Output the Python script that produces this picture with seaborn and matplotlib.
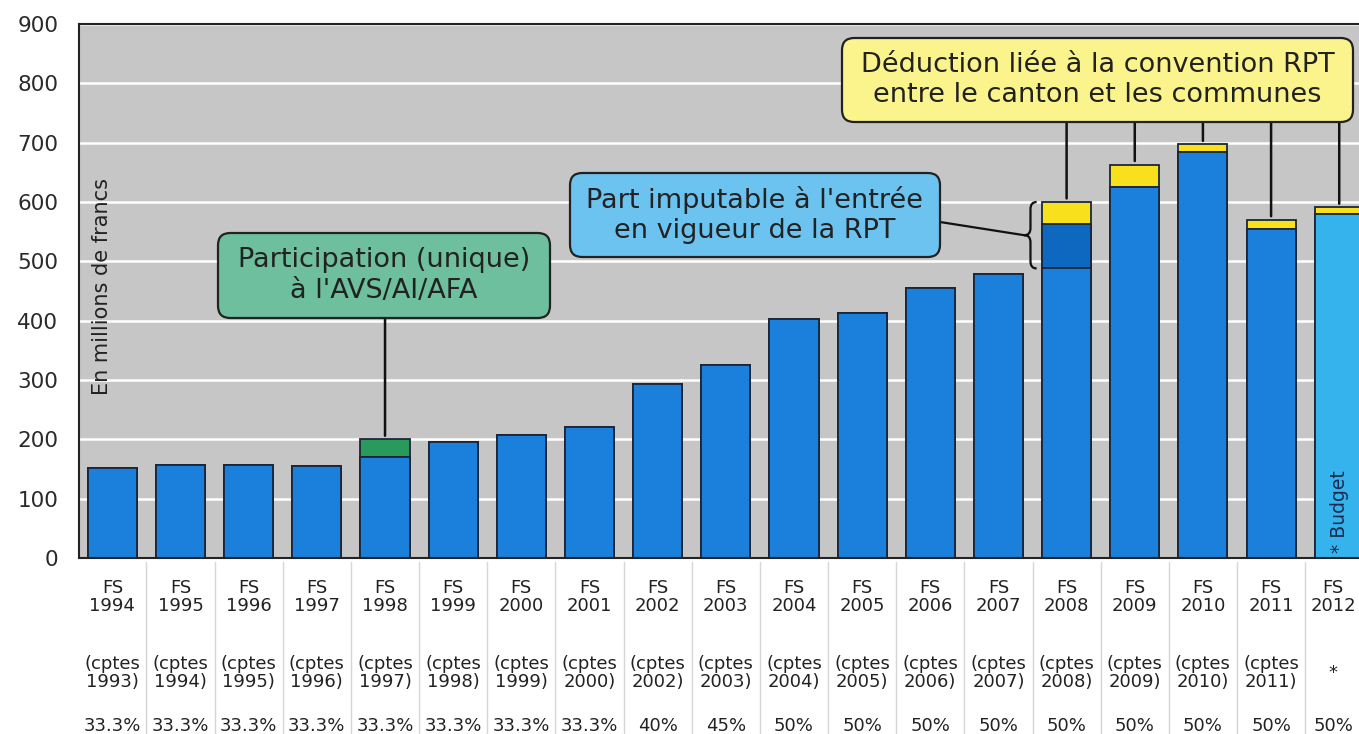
import matplotlib
matplotlib.use("Agg")
import matplotlib.pyplot as plt
import matplotlib.transforms as mtransforms
from matplotlib.patches import FancyBboxPatch, PathPatch, ConnectionPatch
from matplotlib.path import Path
import seaborn as sns
import numpy as np
import pandas as pd

# Données (millions de francs)
years = ["1994", "1995", "1996", "1997", "1998", "1999", "2000", "2001", "2002", "2003",
         "2004", "2005", "2006", "2007", "2008", "2009", "2010", "2011", "2012"]
base = [151, 157, 156, 155, 171, 196, 207, 221, 293, 325,
        403, 413, 455, 478, 488, 625, 684, 555, 579]
avs_part = [0, 0, 0, 0, 29, 0, 0, 0, 0, 0, 0, 0, 0, 0, 0, 0, 0, 0, 0]
rpt_part = [0, 0, 0, 0, 0, 0, 0, 0, 0, 0, 0, 0, 0, 0, 75, 0, 0, 0, 0]
deduction = [0, 0, 0, 0, 0, 0, 0, 0, 0, 0, 0, 0, 0, 0, 37, 38, 13, 15, 12]
comptes = ["1993", "1994", "1995", "1996", "1997", "1998", "1999", "2000", "2002", "2003",
           "2004", "2005", "2006", "2007", "2008", "2009", "2010", "2011", None]
taux = ["33.3%", "33.3%", "33.3%", "33.3%", "33.3%", "33.3%", "33.3%", "33.3%", "40%", "45%",
        "50%", "50%", "50%", "50%", "50%", "50%", "50%", "50%", "50%"]

BLUE = "#1a80dc"
DARK = "#0f68c0"
SKY = "#35b3ec"
YELLOW = "#f8e01c"
GREEN = "#2a9a5c"
EDGE = "#1b2638"

df = pd.DataFrame({"annee": years, "base": base, "avs": avs_part,
                   "rpt": rpt_part, "ded": deduction})
df["mid"] = df["base"] + df["rpt"]
df["total"] = df["mid"] + df["avs"] + df["ded"]

sns.set_theme(style="darkgrid", rc={"axes.facecolor": "#c6c6c6", "grid.color": "white",
                                    "grid.linewidth": 1.8})
plt.rcParams["font.family"] = ["DejaVu Sans"]

W, H = 1359, 734
fig = plt.figure(figsize=(W / 100, H / 100), dpi=100)
fig.patch.set_facecolor("white")
ax = fig.add_axes([79 / W, 1 - 558 / H, 1 - 79 / W, (558 - 24) / H])

# couleurs par barre pour chaque couche (empilement par superposition)
top_col, mid_col, base_col = {}, {}, {}
for y, a, r, d in zip(years, avs_part, rpt_part, deduction):
    b = SKY if y == "2012" else BLUE
    top_col[y] = YELLOW if d > 0 else (GREEN if a > 0 else b)
    mid_col[y] = DARK if r > 0 else b
    base_col[y] = b

for col, pal in [("total", top_col), ("mid", mid_col), ("base", base_col)]:
    sns.barplot(data=df, x="annee", y=col, hue="annee", palette=pal, order=years,
                hue_order=years, width=0.72, saturation=1, edgecolor=EDGE,
                linewidth=1.3, legend=False, ax=ax)

ax.set_xlim(-0.49, 18.29)
ax.set_ylim(0, 900)
ax.set_yticks(np.arange(0, 901, 100))
ax.set_xticks([])
ax.set_xlabel("")
ax.set_ylabel("")
ax.xaxis.grid(False)
ax.set_axisbelow(True)
ax.tick_params(axis="y", length=0, labelsize=15.5, pad=15, labelcolor="#2a2a2a")
for s in ["left", "bottom", "top"]:
    ax.spines[s].set_visible(True)
    ax.spines[s].set_color("#222222")
    ax.spines[s].set_linewidth(1.5)
ax.spines["right"].set_visible(False)

ax.text(-0.15, 458, "En millions de francs", rotation=90, ha="center", va="center",
        fontsize=15, color="#222222")
ax.text(18, 8, "* Budget", rotation=90, ha="center", va="bottom", fontsize=13.5,
        color="#1b2a50")

# tableau sous l'axe
tr = mtransforms.blended_transform_factory(ax.transData, fig.transFigure)
for i, y in enumerate(years):
    xi = i - 0.09 if i == len(years) - 1 else i  # dernière colonne au bord droit
    ax.text(xi, 1 - 597 / H, f"FS\n{y}", transform=tr, ha="center", va="center",
            fontsize=13, linespacing=1.05, color="#222222", clip_on=False)
    second = "*" if comptes[i] is None else f"(cptes\n{comptes[i]})"
    ax.text(xi, 1 - 673 / H, second, transform=tr, ha="center", va="center",
            fontsize=13, linespacing=1.05, color="#222222", clip_on=False)
    ax.text(xi, 1 - 726 / H, taux[i], transform=tr, ha="center", va="center",
            fontsize=13, color="#222222", clip_on=False)
    ax.plot([i + 0.5, i + 0.5], [1 - 562 / H, 0], transform=tr, color="#d6d6d6",
            lw=1, clip_on=False)


def bulle(x0, y0, x1, y1, fc, texte):
    p = FancyBboxPatch((x0 / W, 1 - y1 / H), (x1 - x0) / W, (y1 - y0) / H,
                       boxstyle="round,pad=0,rounding_size=0.009", mutation_aspect=W / H,
                       transform=fig.transFigure, fc=fc, ec="#222222", lw=1.6, zorder=5)
    fig.add_artist(p)
    fig.text((x0 + x1) / 2 / W, 1 - (y0 + y1) / 2 / H, texte, ha="center", va="center",
             fontsize=19.5, linespacing=1.25, color="#222222", zorder=6)


def trait(i, y_px, val):
    c = ConnectionPatch(xyA=(i, 1 - y_px / H), coordsA=tr, xyB=(i, val + 6),
                        coordsB=ax.transData, color="#111111", lw=1.8, zorder=4)
    fig.add_artist(c)


bulle(218, 233, 550, 318, "#6dbf9e", "Participation (unique)\nà l'AVS/AI/AFA")
bulle(570, 173, 940, 257, "#6cc3f0", "Part imputable à l'entrée\nen vigueur de la RPT")
bulle(842, 38, 1353, 122, "#fbf48c", "Déduction liée à la convention RPT\nentre le canton et les communes")

for i in range(len(years)):
    if avs_part[i] > 0:
        trait(i, 318, df["total"][i])
    if deduction[i] > 0:
        trait(i, 122, df["total"][i])

# accolade pour la part RPT (2008)
k = rpt_part.index(max(rpt_part))
ytop, ybot = df["total"][k], df["base"][k]
mid = (ytop + ybot) / 2
x0, xt, xe = k - 0.53, k - 0.62, k - 0.44
c = 12
verts = [(xe, ytop), (x0, ytop), (x0, ytop - c), (x0, mid + c), (x0, mid), (xt, mid),
         (x0, mid), (x0, mid - c), (x0, ybot + c), (x0, ybot), (xe, ybot)]
codes = [Path.MOVETO, Path.CURVE3, Path.CURVE3, Path.LINETO, Path.CURVE3, Path.CURVE3,
         Path.CURVE3, Path.CURVE3, Path.LINETO, Path.CURVE3, Path.CURVE3]
ax.add_patch(PathPatch(Path(verts, codes), fc="none", ec="#111111", lw=1.6, zorder=4))
cp = ConnectionPatch(xyA=(940 / W, 1 - 222 / H), coordsA=fig.transFigure, xyB=(xt, mid),
                     coordsB=ax.transData, color="#111111", lw=1.6, zorder=4)
fig.add_artist(cp)

fig.savefig("out.png", dpi=100, facecolor="white")
